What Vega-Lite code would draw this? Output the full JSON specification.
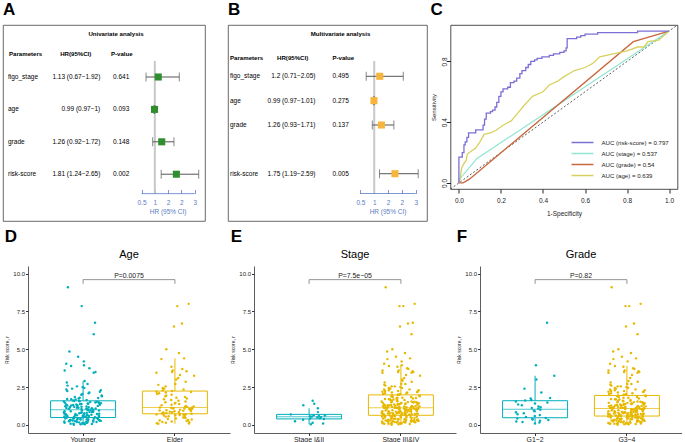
{
"$schema":"https://vega.github.io/schema/vega-lite/v6.json",
"background":"white",
"padding":{"left":2,"top":0,"right":0,"bottom":0},
"config":{"font":"Liberation Sans","view":{"stroke":null},"axis":{"grid":false,"titleFontWeight":"normal"}},
"resolve":{"scale":{"color":"independent"},"legend":{"color":"independent"}},
"datasets":{
"uni":[
{"param":"figo_stage","row":1,"hr":1.13,"lo":0.67,"hi":1.92,"ci":"1.13 (0.67−1.92)","p":"0.641"},
{"param":"age","row":2,"hr":0.99,"lo":0.97,"hi":1.0,"ci":"0.99 (0.97−1)","p":"0.093"},
{"param":"grade","row":3,"hr":1.26,"lo":0.92,"hi":1.72,"ci":"1.26 (0.92−1.72)","p":"0.148"},
{"param":"risk-score","row":4,"hr":1.81,"lo":1.24,"hi":2.65,"ci":"1.81 (1.24−2.65)","p":"0.002"}
],
"multi":[
{"param":"figo_stage","row":1,"hr":1.2,"lo":0.71,"hi":2.05,"ci":"1.2 (0.71−2.05)","p":"0.495"},
{"param":"age","row":2,"hr":0.99,"lo":0.97,"hi":1.01,"ci":"0.99 (0.97−1.01)","p":"0.275"},
{"param":"grade","row":3,"hr":1.26,"lo":0.93,"hi":1.71,"ci":"1.26 (0.93−1.71)","p":"0.137"},
{"param":"risk-score","row":5,"hr":1.75,"lo":1.19,"hi":2.59,"ci":"1.75 (1.19−2.59)","p":"0.005"}
],
"roc":[
{"m":"risk-score","k":0,"fpr":0,"tpr":0},{"m":"risk-score","k":1,"fpr":0,"tpr":0.17},{"m":"risk-score","k":2,"fpr":0.016,"tpr":0.2},{"m":"risk-score","k":3,"fpr":0.024,"tpr":0.25},{"m":"risk-score","k":4,"fpr":0.03,"tpr":0.27},{"m":"risk-score","k":5,"fpr":0.038,"tpr":0.3},{"m":"risk-score","k":6,"fpr":0.046,"tpr":0.33},{"m":"risk-score","k":7,"fpr":0.08,"tpr":0.35},{"m":"risk-score","k":8,"fpr":0.115,"tpr":0.38},{"m":"risk-score","k":9,"fpr":0.122,"tpr":0.42},{"m":"risk-score","k":10,"fpr":0.13,"tpr":0.46},{"m":"risk-score","k":11,"fpr":0.15,"tpr":0.47},{"m":"risk-score","k":12,"fpr":0.16,"tpr":0.48},{"m":"risk-score","k":13,"fpr":0.172,"tpr":0.5},{"m":"risk-score","k":14,"fpr":0.18,"tpr":0.53},{"m":"risk-score","k":15,"fpr":0.19,"tpr":0.57},{"m":"risk-score","k":16,"fpr":0.2,"tpr":0.6},{"m":"risk-score","k":17,"fpr":0.21,"tpr":0.62},{"m":"risk-score","k":18,"fpr":0.232,"tpr":0.63},{"m":"risk-score","k":19,"fpr":0.245,"tpr":0.66},{"m":"risk-score","k":20,"fpr":0.262,"tpr":0.67},{"m":"risk-score","k":21,"fpr":0.275,"tpr":0.69},{"m":"risk-score","k":22,"fpr":0.29,"tpr":0.72},{"m":"risk-score","k":23,"fpr":0.3,"tpr":0.74},{"m":"risk-score","k":24,"fpr":0.318,"tpr":0.76},{"m":"risk-score","k":25,"fpr":0.33,"tpr":0.78},{"m":"risk-score","k":26,"fpr":0.342,"tpr":0.8},{"m":"risk-score","k":27,"fpr":0.36,"tpr":0.81},{"m":"risk-score","k":28,"fpr":0.372,"tpr":0.82},{"m":"risk-score","k":29,"fpr":0.395,"tpr":0.83},{"m":"risk-score","k":30,"fpr":0.43,"tpr":0.84},{"m":"risk-score","k":31,"fpr":0.45,"tpr":0.85},{"m":"risk-score","k":32,"fpr":0.48,"tpr":0.86},{"m":"risk-score","k":33,"fpr":0.5,"tpr":0.87},{"m":"risk-score","k":34,"fpr":0.51,"tpr":0.89},{"m":"risk-score","k":35,"fpr":0.515,"tpr":0.95},{"m":"risk-score","k":36,"fpr":0.56,"tpr":0.96},{"m":"risk-score","k":37,"fpr":0.58,"tpr":0.97},{"m":"risk-score","k":38,"fpr":0.6,"tpr":0.98},{"m":"risk-score","k":39,"fpr":0.66,"tpr":0.99},{"m":"risk-score","k":40,"fpr":0.85,"tpr":1},{"m":"risk-score","k":41,"fpr":1,"tpr":1},
{"m":"stage","k":0,"fpr":0,"tpr":0},{"m":"stage","k":1,"fpr":0,"tpr":0.02},{"m":"stage","k":2,"fpr":0.085,"tpr":0.16},{"m":"stage","k":3,"fpr":1,"tpr":1},
{"m":"grade","k":0,"fpr":0,"tpr":0},{"m":"grade","k":1,"fpr":0.02,"tpr":0},{"m":"grade","k":2,"fpr":0.05,"tpr":0.025},{"m":"grade","k":3,"fpr":0.83,"tpr":0.93},{"m":"grade","k":4,"fpr":1,"tpr":1},
{"m":"age","k":0,"fpr":0,"tpr":0},{"m":"age","k":1,"fpr":0.005,"tpr":0.02},{"m":"age","k":2,"fpr":0.013,"tpr":0.1},{"m":"age","k":3,"fpr":0.025,"tpr":0.13},{"m":"age","k":4,"fpr":0.035,"tpr":0.15},{"m":"age","k":5,"fpr":0.04,"tpr":0.19},{"m":"age","k":6,"fpr":0.06,"tpr":0.21},{"m":"age","k":7,"fpr":0.08,"tpr":0.23},{"m":"age","k":8,"fpr":0.1,"tpr":0.27},{"m":"age","k":9,"fpr":0.12,"tpr":0.32},{"m":"age","k":10,"fpr":0.15,"tpr":0.33},{"m":"age","k":11,"fpr":0.175,"tpr":0.345},{"m":"age","k":12,"fpr":0.21,"tpr":0.38},{"m":"age","k":13,"fpr":0.25,"tpr":0.41},{"m":"age","k":14,"fpr":0.28,"tpr":0.46},{"m":"age","k":15,"fpr":0.31,"tpr":0.51},{"m":"age","k":16,"fpr":0.35,"tpr":0.57},{"m":"age","k":17,"fpr":0.4,"tpr":0.6},{"m":"age","k":18,"fpr":0.43,"tpr":0.645},{"m":"age","k":19,"fpr":0.47,"tpr":0.67},{"m":"age","k":20,"fpr":0.5,"tpr":0.7},{"m":"age","k":21,"fpr":0.55,"tpr":0.74},{"m":"age","k":22,"fpr":0.6,"tpr":0.76},{"m":"age","k":23,"fpr":0.64,"tpr":0.79},{"m":"age","k":24,"fpr":0.67,"tpr":0.83},{"m":"age","k":25,"fpr":0.75,"tpr":0.855},{"m":"age","k":26,"fpr":0.8,"tpr":0.87},{"m":"age","k":27,"fpr":0.85,"tpr":0.895},{"m":"age","k":28,"fpr":0.88,"tpr":0.895},{"m":"age","k":29,"fpr":0.9,"tpr":0.93},{"m":"age","k":30,"fpr":0.95,"tpr":0.94},{"m":"age","k":31,"fpr":1,"tpr":1}
],
"pts":[
{"r":0.02,"a":"Y","s":"H","g":"H"},{"r":0.04,"a":"Y","s":"H","g":"H"},{"r":0.05,"a":"Y","s":"L","g":"H"},{"r":0.06,"a":"Y","s":"H","g":"H"},{"r":0.08,"a":"Y","s":"H","g":"H"},{"r":0.09,"a":"Y","s":"H","g":"H"},{"r":0.1,"a":"Y","s":"H","g":"L"},{"r":0.11,"a":"Y","s":"H","g":"H"},{"r":0.12,"a":"Y","s":"H","g":"H"},{"r":0.14,"a":"Y","s":"H","g":"H"},
{"r":0.15,"a":"Y","s":"L","g":"H"},{"r":0.16,"a":"Y","s":"H","g":"L"},{"r":0.17,"a":"Y","s":"H","g":"H"},{"r":0.19,"a":"Y","s":"H","g":"H"},{"r":0.2,"a":"Y","s":"H","g":"H"},{"r":0.21,"a":"Y","s":"H","g":"H"},{"r":0.22,"a":"Y","s":"H","g":"H"},{"r":0.23,"a":"Y","s":"H","g":"L"},{"r":0.24,"a":"Y","s":"H","g":"H"},{"r":0.25,"a":"Y","s":"L","g":"H"},
{"r":0.26,"a":"Y","s":"H","g":"H"},{"r":0.27,"a":"Y","s":"H","g":"H"},{"r":0.28,"a":"Y","s":"H","g":"L"},{"r":0.29,"a":"Y","s":"H","g":"H"},{"r":0.3,"a":"Y","s":"H","g":"H"},{"r":0.31,"a":"Y","s":"H","g":"H"},{"r":0.32,"a":"Y","s":"H","g":"H"},{"r":0.33,"a":"Y","s":"H","g":"H"},{"r":0.34,"a":"Y","s":"H","g":"H"},{"r":0.35,"a":"Y","s":"L","g":"H"},
{"r":0.36,"a":"Y","s":"H","g":"L"},{"r":0.37,"a":"Y","s":"H","g":"H"},{"r":0.38,"a":"Y","s":"H","g":"H"},{"r":0.39,"a":"Y","s":"H","g":"L"},{"r":0.4,"a":"Y","s":"L","g":"H"},{"r":0.41,"a":"Y","s":"H","g":"H"},{"r":0.42,"a":"Y","s":"H","g":"L"},{"r":0.43,"a":"Y","s":"H","g":"H"},{"r":0.44,"a":"Y","s":"H","g":"H"},{"r":0.45,"a":"Y","s":"L","g":"H"},
{"r":0.47,"a":"Y","s":"H","g":"H"},{"r":0.49,"a":"Y","s":"H","g":"H"},{"r":0.5,"a":"Y","s":"H","g":"H"},{"r":0.51,"a":"Y","s":"H","g":"H"},{"r":0.52,"a":"Y","s":"L","g":"H"},{"r":0.53,"a":"Y","s":"H","g":"L"},{"r":0.54,"a":"Y","s":"H","g":"H"},{"r":0.55,"a":"Y","s":"L","g":"H"},{"r":0.56,"a":"Y","s":"H","g":"H"},{"r":0.57,"a":"Y","s":"H","g":"H"},
{"r":0.58,"a":"Y","s":"L","g":"H"},{"r":0.59,"a":"Y","s":"H","g":"H"},{"r":0.6,"a":"Y","s":"H","g":"L"},{"r":0.61,"a":"Y","s":"H","g":"H"},{"r":0.62,"a":"Y","s":"L","g":"H"},{"r":0.63,"a":"Y","s":"H","g":"H"},{"r":0.64,"a":"Y","s":"H","g":"H"},{"r":0.65,"a":"Y","s":"L","g":"H"},{"r":0.66,"a":"Y","s":"H","g":"H"},{"r":0.67,"a":"Y","s":"H","g":"H"},
{"r":0.68,"a":"Y","s":"H","g":"H"},{"r":0.7,"a":"Y","s":"H","g":"H"},{"r":0.71,"a":"Y","s":"H","g":"L"},{"r":0.72,"a":"Y","s":"H","g":"H"},{"r":0.73,"a":"Y","s":"H","g":"H"},{"r":0.75,"a":"Y","s":"H","g":"H"},{"r":0.76,"a":"Y","s":"H","g":"H"},{"r":0.77,"a":"Y","s":"H","g":"H"},{"r":0.78,"a":"Y","s":"H","g":"H"},{"r":0.8,"a":"Y","s":"H","g":"H"},
{"r":0.81,"a":"Y","s":"H","g":"H"},{"r":0.82,"a":"Y","s":"H","g":"H"},{"r":0.84,"a":"Y","s":"H","g":"L"},{"r":0.85,"a":"Y","s":"L","g":"H"},{"r":0.86,"a":"Y","s":"H","g":"H"},{"r":0.88,"a":"Y","s":"H","g":"H"},{"r":0.9,"a":"Y","s":"H","g":"H"},{"r":0.91,"a":"Y","s":"H","g":"H"},{"r":0.93,"a":"Y","s":"H","g":"H"},{"r":0.95,"a":"Y","s":"H","g":"H"},
{"r":0.96,"a":"Y","s":"H","g":"L"},{"r":0.98,"a":"Y","s":"H","g":"H"},{"r":1.0,"a":"Y","s":"H","g":"H"},{"r":1.01,"a":"Y","s":"H","g":"H"},{"r":1.02,"a":"Y","s":"H","g":"H"},{"r":1.04,"a":"Y","s":"H","g":"H"},{"r":1.05,"a":"Y","s":"H","g":"H"},{"r":1.06,"a":"Y","s":"H","g":"H"},{"r":1.08,"a":"Y","s":"H","g":"L"},{"r":1.09,"a":"Y","s":"H","g":"H"},
{"r":1.1,"a":"Y","s":"L","g":"H"},{"r":1.12,"a":"Y","s":"H","g":"H"},{"r":1.13,"a":"Y","s":"H","g":"H"},{"r":1.14,"a":"Y","s":"H","g":"H"},{"r":1.16,"a":"Y","s":"H","g":"H"},{"r":1.17,"a":"Y","s":"H","g":"L"},{"r":1.18,"a":"Y","s":"H","g":"H"},{"r":1.2,"a":"Y","s":"H","g":"H"},{"r":1.21,"a":"Y","s":"H","g":"H"},{"r":1.22,"a":"Y","s":"H","g":"L"},
{"r":1.24,"a":"Y","s":"H","g":"H"},{"r":1.25,"a":"Y","s":"H","g":"H"},{"r":1.26,"a":"Y","s":"H","g":"H"},{"r":1.28,"a":"Y","s":"H","g":"H"},{"r":1.29,"a":"Y","s":"H","g":"H"},{"r":1.3,"a":"Y","s":"L","g":"H"},{"r":1.32,"a":"Y","s":"H","g":"H"},{"r":1.33,"a":"Y","s":"H","g":"H"},{"r":1.35,"a":"Y","s":"H","g":"H"},{"r":1.36,"a":"Y","s":"H","g":"L"},
{"r":1.38,"a":"Y","s":"H","g":"H"},{"r":1.39,"a":"Y","s":"H","g":"H"},{"r":1.4,"a":"Y","s":"L","g":"H"},{"r":1.42,"a":"Y","s":"H","g":"H"},{"r":1.43,"a":"Y","s":"H","g":"H"},{"r":1.45,"a":"Y","s":"H","g":"H"},{"r":1.46,"a":"Y","s":"H","g":"H"},{"r":1.48,"a":"Y","s":"H","g":"L"},{"r":1.5,"a":"Y","s":"H","g":"H"},{"r":1.51,"a":"Y","s":"H","g":"H"},
{"r":1.53,"a":"Y","s":"H","g":"H"},{"r":1.55,"a":"Y","s":"H","g":"L"},{"r":1.56,"a":"Y","s":"H","g":"H"},{"r":1.58,"a":"Y","s":"H","g":"H"},{"r":1.6,"a":"Y","s":"H","g":"H"},{"r":1.62,"a":"Y","s":"H","g":"L"},{"r":1.65,"a":"Y","s":"H","g":"H"},{"r":1.68,"a":"Y","s":"H","g":"H"},{"r":1.7,"a":"Y","s":"H","g":"H"},{"r":1.72,"a":"Y","s":"H","g":"H"},
{"r":1.75,"a":"Y","s":"H","g":"L"},{"r":1.78,"a":"Y","s":"H","g":"L"},{"r":1.8,"a":"Y","s":"H","g":"H"},{"r":1.85,"a":"Y","s":"H","g":"H"},{"r":1.9,"a":"Y","s":"H","g":"H"},{"r":1.95,"a":"Y","s":"H","g":"H"},{"r":2.0,"a":"Y","s":"H","g":"H"},{"r":2.05,"a":"Y","s":"H","g":"H"},{"r":2.1,"a":"Y","s":"H","g":"H"},{"r":2.15,"a":"Y","s":"H","g":"L"},
{"r":2.2,"a":"Y","s":"H","g":"H"},{"r":2.25,"a":"Y","s":"H","g":"H"},{"r":2.3,"a":"Y","s":"H","g":"H"},{"r":2.35,"a":"Y","s":"H","g":"H"},{"r":2.4,"a":"Y","s":"H","g":"H"},{"r":2.45,"a":"Y","s":"H","g":"H"},{"r":2.5,"a":"Y","s":"H","g":"H"},{"r":2.55,"a":"Y","s":"H","g":"H"},{"r":2.6,"a":"Y","s":"H","g":"H"},{"r":2.7,"a":"Y","s":"H","g":"H"},
{"r":2.8,"a":"Y","s":"H","g":"H"},{"r":2.9,"a":"Y","s":"H","g":"H"},{"r":3.45,"a":"Y","s":"H","g":"H"},{"r":3.5,"a":"Y","s":"H","g":"H"},{"r":3.6,"a":"Y","s":"H","g":"H"},{"r":3.75,"a":"Y","s":"H","g":"H"},{"r":3.9,"a":"Y","s":"H","g":"H"},{"r":3.95,"a":"Y","s":"H","g":"L"},{"r":4.05,"a":"Y","s":"H","g":"H"},{"r":4.2,"a":"Y","s":"H","g":"H"},
{"r":4.5,"a":"Y","s":"H","g":"H"},{"r":4.85,"a":"Y","s":"H","g":"H"},{"r":6.0,"a":"Y","s":"H","g":"H"},{"r":6.75,"a":"Y","s":"H","g":"L"},{"r":7.85,"a":"Y","s":"H","g":"H"},{"r":9.1,"a":"Y","s":"H","g":"H"},
{"r":0.08,"a":"E","s":"H","g":"H"},{"r":0.1,"a":"E","s":"L","g":"H"},{"r":0.12,"a":"E","s":"H","g":"H"},{"r":0.15,"a":"E","s":"H","g":"H"},{"r":0.18,"a":"E","s":"H","g":"H"},{"r":0.2,"a":"E","s":"H","g":"L"},{"r":0.23,"a":"E","s":"H","g":"H"},{"r":0.26,"a":"E","s":"H","g":"H"},{"r":0.3,"a":"E","s":"H","g":"H"},{"r":0.33,"a":"E","s":"H","g":"L"},
{"r":0.36,"a":"E","s":"H","g":"H"},{"r":0.4,"a":"E","s":"H","g":"H"},{"r":0.43,"a":"E","s":"L","g":"H"},{"r":0.46,"a":"E","s":"H","g":"L"},{"r":0.5,"a":"E","s":"L","g":"H"},{"r":0.52,"a":"E","s":"H","g":"H"},{"r":0.55,"a":"E","s":"H","g":"H"},{"r":0.57,"a":"E","s":"H","g":"H"},{"r":0.6,"a":"E","s":"L","g":"H"},{"r":0.62,"a":"E","s":"H","g":"H"},
{"r":0.64,"a":"E","s":"H","g":"H"},{"r":0.66,"a":"E","s":"H","g":"L"},{"r":0.68,"a":"E","s":"H","g":"H"},{"r":0.7,"a":"E","s":"L","g":"H"},{"r":0.71,"a":"E","s":"H","g":"H"},{"r":0.72,"a":"E","s":"H","g":"H"},{"r":0.74,"a":"E","s":"H","g":"H"},{"r":0.76,"a":"E","s":"H","g":"H"},{"r":0.78,"a":"E","s":"H","g":"L"},{"r":0.8,"a":"E","s":"H","g":"H"},
{"r":0.82,"a":"E","s":"H","g":"H"},{"r":0.84,"a":"E","s":"H","g":"H"},{"r":0.86,"a":"E","s":"H","g":"H"},{"r":0.88,"a":"E","s":"H","g":"H"},{"r":0.9,"a":"E","s":"H","g":"L"},{"r":0.92,"a":"E","s":"H","g":"H"},{"r":0.94,"a":"E","s":"H","g":"H"},{"r":0.96,"a":"E","s":"H","g":"H"},{"r":0.98,"a":"E","s":"H","g":"H"},{"r":1.0,"a":"E","s":"H","g":"H"},
{"r":1.01,"a":"E","s":"H","g":"L"},{"r":1.03,"a":"E","s":"H","g":"H"},{"r":1.04,"a":"E","s":"H","g":"H"},{"r":1.06,"a":"E","s":"H","g":"H"},{"r":1.07,"a":"E","s":"H","g":"H"},{"r":1.08,"a":"E","s":"H","g":"H"},{"r":1.09,"a":"E","s":"H","g":"H"},{"r":1.1,"a":"E","s":"H","g":"H"},{"r":1.11,"a":"E","s":"H","g":"H"},{"r":1.12,"a":"E","s":"H","g":"L"},
{"r":1.13,"a":"E","s":"H","g":"H"},{"r":1.14,"a":"E","s":"H","g":"H"},{"r":1.16,"a":"E","s":"H","g":"H"},{"r":1.18,"a":"E","s":"H","g":"H"},{"r":1.2,"a":"E","s":"H","g":"H"},{"r":1.23,"a":"E","s":"H","g":"H"},{"r":1.26,"a":"E","s":"H","g":"H"},{"r":1.3,"a":"E","s":"H","g":"L"},{"r":1.34,"a":"E","s":"H","g":"H"},{"r":1.38,"a":"E","s":"H","g":"H"},
{"r":1.42,"a":"E","s":"H","g":"L"},{"r":1.46,"a":"E","s":"H","g":"H"},{"r":1.5,"a":"E","s":"H","g":"H"},{"r":1.55,"a":"E","s":"H","g":"H"},{"r":1.6,"a":"E","s":"L","g":"H"},{"r":1.65,"a":"E","s":"H","g":"L"},{"r":1.7,"a":"E","s":"H","g":"H"},{"r":1.75,"a":"E","s":"H","g":"H"},{"r":1.8,"a":"E","s":"H","g":"H"},{"r":1.85,"a":"E","s":"H","g":"H"},
{"r":1.9,"a":"E","s":"H","g":"H"},{"r":1.95,"a":"E","s":"H","g":"H"},{"r":2.0,"a":"E","s":"H","g":"H"},{"r":2.05,"a":"E","s":"H","g":"H"},{"r":2.1,"a":"E","s":"H","g":"H"},{"r":2.15,"a":"E","s":"H","g":"H"},{"r":2.18,"a":"E","s":"H","g":"H"},{"r":2.2,"a":"E","s":"H","g":"H"},{"r":2.24,"a":"E","s":"H","g":"H"},{"r":2.3,"a":"E","s":"H","g":"H"},
{"r":2.35,"a":"E","s":"H","g":"H"},{"r":2.4,"a":"E","s":"H","g":"L"},{"r":2.45,"a":"E","s":"H","g":"H"},{"r":2.55,"a":"E","s":"H","g":"H"},{"r":2.65,"a":"E","s":"H","g":"H"},{"r":2.7,"a":"E","s":"H","g":"H"},{"r":2.85,"a":"E","s":"H","g":"H"},{"r":3.0,"a":"E","s":"H","g":"L"},{"r":3.1,"a":"E","s":"H","g":"H"},{"r":3.25,"a":"E","s":"H","g":"L"},
{"r":3.3,"a":"E","s":"H","g":"H"},{"r":3.45,"a":"E","s":"H","g":"H"},{"r":3.5,"a":"E","s":"H","g":"H"},{"r":3.55,"a":"E","s":"H","g":"H"},{"r":3.6,"a":"E","s":"H","g":"H"},{"r":3.7,"a":"E","s":"H","g":"H"},{"r":3.85,"a":"E","s":"H","g":"H"},{"r":4.35,"a":"E","s":"H","g":"H"},{"r":4.4,"a":"E","s":"H","g":"H"},{"r":4.75,"a":"E","s":"H","g":"H"},
{"r":5.0,"a":"E","s":"H","g":"H"},{"r":6.5,"a":"E","s":"H","g":"H"},{"r":6.7,"a":"E","s":"H","g":"H"},{"r":7.85,"a":"E","s":"H","g":"H"},{"r":8.0,"a":"E","s":"H","g":"H"}
]
},
"columns":1,
"align":"none",
"spacing":6,
"concat":[
{"spacing":1.5,"resolve":{"scale":{"color":"independent"},"legend":{"color":"independent"}},"hconcat":[
 {"spacing":21,"hconcat":[
  {"title":{"text":"A","anchor":"start","fontSize":17,"fontWeight":"bold","offset":6},
   "width":202,"height":196,
   "view":{"stroke":"#444","strokeWidth":0.8},
   "data":{"name":"uni"},
   "resolve":{"scale":{"x":"independent"}},
   "layer":[
    {"layer":[
     {"data":{"values":[{}]},"mark":{"type":"text","text":"Univariate analysis","fontWeight":"bold","fontSize":6.1,"align":"center","baseline":"middle","dx":12},
      "encoding":{"x":{"datum":"HR(95%CI)","type":"nominal","bandPosition":1,"scale":{"type":"band","domain":["Parameters","HR(95%CI)","P-value","plot"],"paddingInner":0,"paddingOuter":0},"axis":null},
                  "y":{"datum":-0.336,"type":"quantitative","scale":{"domain":[-0.605,5.444],"reverse":true,"nice":false,"zero":false},"axis":null}}},
     {"data":{"values":[{}]},"mark":{"type":"text","text":"Parameters","fontWeight":"bold","fontSize":6.1,"align":"left","baseline":"middle","dx":6},
      "encoding":{"x":{"datum":"Parameters","type":"nominal","bandPosition":0,"axis":null},"y":{"datum":0.3,"type":"quantitative","axis":null}}},
     {"data":{"values":[{}]},"mark":{"type":"text","text":"HR(95%CI)","fontWeight":"bold","fontSize":6.1,"align":"center","baseline":"middle","dx":-3},
      "encoding":{"x":{"datum":"HR(95%CI)","type":"nominal","bandPosition":0.5,"axis":null},"y":{"datum":0.3,"type":"quantitative","axis":null}}},
     {"data":{"values":[{}]},"mark":{"type":"text","text":"P-value","fontWeight":"bold","fontSize":6.1,"align":"left","baseline":"middle","dx":7},
      "encoding":{"x":{"datum":"P-value","type":"nominal","bandPosition":0,"axis":null},"y":{"datum":0.3,"type":"quantitative","axis":null}}},
     {"mark":{"type":"text","fontSize":6.5,"align":"left","baseline":"middle","dx":5},
      "encoding":{"x":{"datum":"Parameters","type":"nominal","bandPosition":0,"axis":null},"y":{"field":"row","type":"quantitative","axis":null},"text":{"field":"param"}}},
     {"mark":{"type":"text","fontSize":6.5,"align":"right","baseline":"middle","dx":-3.7},
      "encoding":{"x":{"datum":"HR(95%CI)","type":"nominal","bandPosition":1,"axis":null},"y":{"field":"row","type":"quantitative","axis":null},"text":{"field":"ci"}}},
     {"mark":{"type":"text","fontSize":6.5,"align":"left","baseline":"middle","dx":9},
      "encoding":{"x":{"datum":"P-value","type":"nominal","bandPosition":0,"axis":null},"y":{"field":"row","type":"quantitative","axis":null},"text":{"field":"p"}}}
    ]},
    {"layer":[
     {"data":{"values":[{}]},"mark":{"type":"rule","color":"#C8C8C8","strokeWidth":2},
      "encoding":{"x":{"datum":1,"type":"quantitative","scale":{"domain":[-4.707,2.887],"nice":false,"zero":false},
        "axis":{"values":[0.5,1,1.5,2,2.5],"format":"~g","orient":"bottom","offset":-27.5,"domain":false,"tickSize":-4,"tickColor":"#5D7DC4","tickWidth":0.8,"labelColor":"#5D7DC4","labelFontSize":6.5,"labelPadding":10,"labelOverlap":false,"title":null}},
       "y":{"datum":0.506,"type":"quantitative","axis":null},"y2":{"datum":4.6}}},
     {"data":{"values":[{}]},"mark":{"type":"rule","color":"#5D7DC4","strokeWidth":0.8},
      "encoding":{"x":{"datum":0.5,"type":"quantitative"},"x2":{"datum":2.5},"y":{"datum":4.6,"type":"quantitative","axis":null}}},
     {"mark":{"type":"rule","color":"#555","strokeWidth":1},
      "encoding":{"x":{"field":"lo","type":"quantitative"},"x2":{"field":"hi"},"y":{"field":"row","type":"quantitative","axis":null}}},
     {"mark":{"type":"tick","orient":"vertical","color":"#555","size":9,"thickness":1},
      "encoding":{"x":{"field":"lo","type":"quantitative"},"y":{"field":"row","type":"quantitative","axis":null}}},
     {"mark":{"type":"tick","orient":"vertical","color":"#555","size":9,"thickness":1},
      "encoding":{"x":{"field":"hi","type":"quantitative"},"y":{"field":"row","type":"quantitative","axis":null}}},
     {"mark":{"type":"square","color":"#2F8F2F","size":50,"opacity":1},
      "encoding":{"x":{"field":"hr","type":"quantitative"},"y":{"field":"row","type":"quantitative","axis":null}}},
     {"data":{"values":[{}]},"mark":{"type":"text","text":"HR (95% CI)","color":"#5D7DC4","fontSize":6.5,"align":"center","baseline":"middle"},
      "encoding":{"x":{"datum":1.5,"type":"quantitative"},"y":{"datum":5.157,"type":"quantitative","axis":null}}}
    ]}
   ]},
  {"title":{"text":"B","anchor":"start","fontSize":17,"fontWeight":"bold","offset":6},
   "width":199,"height":196,
   "view":{"stroke":"#444","strokeWidth":0.8},
   "data":{"name":"multi"},
   "resolve":{"scale":{"x":"independent"}},
   "layer":[
    {"layer":[
     {"data":{"values":[{}]},"mark":{"type":"text","text":"Multivariate analysis","fontWeight":"bold","fontSize":6.1,"align":"center","baseline":"middle","dx":13},
      "encoding":{"x":{"datum":"HR(95%CI)","type":"nominal","bandPosition":1,"scale":{"type":"band","domain":["Parameters","HR(95%CI)","P-value","plot"],"paddingInner":0,"paddingOuter":0},"axis":null},
                  "y":{"datum":-0.725,"type":"quantitative","scale":{"domain":[-1.107,6.942],"reverse":true,"nice":false,"zero":false},"axis":null}}},
     {"data":{"values":[{}]},"mark":{"type":"text","text":"Parameters","fontWeight":"bold","fontSize":6.1,"align":"left","baseline":"middle","dx":2},
      "encoding":{"x":{"datum":"Parameters","type":"nominal","bandPosition":0,"axis":null},"y":{"datum":0.236,"type":"quantitative","axis":null}}},
     {"data":{"values":[{}]},"mark":{"type":"text","text":"HR(95%CI)","fontWeight":"bold","fontSize":6.1,"align":"center","baseline":"middle","dx":-10},
      "encoding":{"x":{"datum":"HR(95%CI)","type":"nominal","bandPosition":0.5,"axis":null},"y":{"datum":0.236,"type":"quantitative","axis":null}}},
     {"data":{"values":[{}]},"mark":{"type":"text","text":"P-value","fontWeight":"bold","fontSize":6.1,"align":"left","baseline":"middle","dx":5},
      "encoding":{"x":{"datum":"P-value","type":"nominal","bandPosition":0,"axis":null},"y":{"datum":0.236,"type":"quantitative","axis":null}}},
     {"mark":{"type":"text","fontSize":6.5,"align":"left","baseline":"middle","dx":2},
      "encoding":{"x":{"datum":"Parameters","type":"nominal","bandPosition":0,"axis":null},"y":{"field":"row","type":"quantitative","axis":null},"text":{"field":"param"}}},
     {"mark":{"type":"text","fontSize":6.5,"align":"right","baseline":"middle","dx":-12},
      "encoding":{"x":{"datum":"HR(95%CI)","type":"nominal","bandPosition":1,"axis":null},"y":{"field":"row","type":"quantitative","axis":null},"text":{"field":"ci"}}},
     {"mark":{"type":"text","fontSize":6.5,"align":"left","baseline":"middle","dx":5},
      "encoding":{"x":{"datum":"P-value","type":"nominal","bandPosition":0,"axis":null},"y":{"field":"row","type":"quantitative","axis":null},"text":{"field":"p"}}}
    ]},
    {"layer":[
     {"data":{"values":[{}]},"mark":{"type":"rule","color":"#C8C8C8","strokeWidth":2},
      "encoding":{"x":{"datum":1,"type":"quantitative","scale":{"domain":[-4.287,2.908],"nice":false,"zero":false},
        "axis":{"values":[0.5,1,1.5,2,2.5],"format":"~g","orient":"bottom","offset":-27.5,"domain":false,"tickSize":-4,"tickColor":"#5D7DC4","tickWidth":0.8,"labelColor":"#5D7DC4","labelFontSize":6.5,"labelPadding":10,"labelOverlap":false,"title":null}},
       "y":{"datum":0.372,"type":"quantitative","axis":null},"y2":{"datum":5.813}}},
     {"data":{"values":[{}]},"mark":{"type":"rule","color":"#5D7DC4","strokeWidth":0.8},
      "encoding":{"x":{"datum":0.5,"type":"quantitative"},"x2":{"datum":2.5},"y":{"datum":5.813,"type":"quantitative","axis":null}}},
     {"mark":{"type":"rule","color":"#555","strokeWidth":1},
      "encoding":{"x":{"field":"lo","type":"quantitative"},"x2":{"field":"hi"},"y":{"field":"row","type":"quantitative","axis":null}}},
     {"mark":{"type":"tick","orient":"vertical","color":"#555","size":9,"thickness":1},
      "encoding":{"x":{"field":"lo","type":"quantitative"},"y":{"field":"row","type":"quantitative","axis":null}}},
     {"mark":{"type":"tick","orient":"vertical","color":"#555","size":9,"thickness":1},
      "encoding":{"x":{"field":"hi","type":"quantitative"},"y":{"field":"row","type":"quantitative","axis":null}}},
     {"mark":{"type":"square","color":"#F7B53D","size":50,"opacity":1},
      "encoding":{"x":{"field":"hr","type":"quantitative"},"y":{"field":"row","type":"quantitative","axis":null}}},
     {"data":{"values":[{}]},"mark":{"type":"text","text":"HR (95% CI)","color":"#5D7DC4","fontSize":6.5,"align":"center","baseline":"middle"},
      "encoding":{"x":{"datum":1.5,"type":"quantitative"},"y":{"datum":6.56,"type":"quantitative","axis":null}}}
    ]}
   ]}
 ]},
 {"title":{"text":"C","anchor":"start","fontSize":17,"fontWeight":"bold","offset":6},
  "width":227,"height":164,
  "view":{"stroke":"#222","strokeWidth":0.8},
  "layer":[
   {"data":{"values":[{}]},"mark":{"type":"rule","color":"#333","strokeWidth":0.8,"strokeDash":[2,2]},
    "encoding":{
     "x":{"datum":-0.04,"type":"quantitative","scale":{"domain":[-0.04,1.04],"nice":false,"zero":false},
      "axis":{"values":[0,0.2,0.4,0.6,0.8,1],"format":".1f","title":"1-Specificity","domain":false,"tickSize":4,"tickColor":"#222","labelFontSize":6.5,"labelColor":"#222","labelPadding":4,"titleFontSize":6.5,"titlePadding":7,"titleColor":"#222"}},
     "x2":{"datum":1.04},
     "y":{"datum":-0.04,"type":"quantitative","scale":{"domain":[-0.04,1.04],"nice":false,"zero":false},
      "axis":{"values":[0,0.2,0.4,0.6,0.8,1],"format":".1f","title":"Sensitivity","domain":false,"tickSize":4,"tickColor":"#222","labelFontSize":6.5,"labelColor":"#222","labelAngle":-90,"labelAlign":"center","labelBaseline":"bottom","labelPadding":-1,"titleFontSize":6,"titlePadding":5,"titleColor":"#222"}},
     "y2":{"datum":1.04}}},
   {"data":{"name":"roc"},"transform":[{"filter":"datum.m != 'risk-score'"}],
    "mark":{"type":"line","strokeWidth":1.3},
    "encoding":{"x":{"field":"fpr","type":"quantitative"},"y":{"field":"tpr","type":"quantitative"},"order":{"field":"k","type":"quantitative"},
     "color":{"field":"m","type":"nominal","scale":{"domain":["risk-score","stage","grade","age"],"range":["#7B6FD6","#93E6D2","#C9673D","#D8D160"]},
      "legend":{"title":null,"orient":"bottom-right","offset":8,"padding":0,"symbolType":"stroke","symbolSize":480,"symbolStrokeWidth":1.5,"clipHeight":11,"labelFontSize":6.1,"labelColor":"#222","labelOffset":7,"rowPadding":0,
       "labelExpr":"datum.label == 'risk-score' ? 'AUC (risk-score) = 0.797' : datum.label == 'stage' ? 'AUC (stage) = 0.537' : datum.label == 'grade' ? 'AUC (grade) = 0.54' : 'AUC (age) = 0.639'"}}}},
   {"data":{"name":"roc"},"transform":[{"filter":"datum.m == 'risk-score'"}],
    "mark":{"type":"line","strokeWidth":1.3,"interpolate":"step-after"},
    "encoding":{"x":{"field":"fpr","type":"quantitative"},"y":{"field":"tpr","type":"quantitative"},"order":{"field":"k","type":"quantitative"},
     "color":{"field":"m","type":"nominal"}}}
  ]}
]},
{"spacing":0,"hconcat":[
 {"width":0.01,"height":10,"data":{"values":[]},"mark":{"type":"point","opacity":0},"encoding":{}},
 {"title":{"text":"D","anchor":"start","fontSize":17,"fontWeight":"bold","offset":3},
  "vconcat":[{
   "title":{"text":"Age","fontSize":11,"fontWeight":"normal","anchor":"middle","offset":6},
   "width":202,"height":167,
   "data":{"name":"pts"},
   "layer":[
    {"transform":[{"filter":"datum.a == 'Y'"}],
     "mark":{"type":"boxplot","extent":1.5,"size":65,"outliers":false,"box":{"fill":"white","stroke":"#00AFBB","strokeWidth":1},"median":{"color":"#00AFBB","strokeWidth":1.3},"rule":{"color":"#00AFBB","strokeWidth":1}},
     "encoding":{
      "x":{"field":"a","type":"nominal","scale":{"domain":["Y","E"],"paddingInner":0,"paddingOuter":0.1},
       "axis":{"title":null,"labelExpr":"datum.value == 'Y' ? 'Younger' : 'Elder'","labelAngle":0,"labelFontSize":6.9,"labelColor":"#222","tickSize":2.5,"tickColor":"#333","domainColor":"#333","domainWidth":0.8,"labelPadding":1}},
      "y":{"field":"r","type":"quantitative","scale":{"domain":[-0.53,10.5],"nice":false,"zero":false},
       "axis":{"title":"Risk score","values":[0,2.5,5,7.5,10],"format":".1f","titleFontSize":5,"labelFontSize":6,"tickSize":2.5,"labelPadding":1,"titlePadding":3,"domainColor":"#333","tickColor":"#333","labelColor":"#222","titleColor":"#222","domainWidth":0.8}}}},
    {"transform":[{"filter":"datum.a == 'E'"}],
     "mark":{"type":"boxplot","extent":1.5,"size":65,"outliers":false,"box":{"fill":"white","stroke":"#E7B800","strokeWidth":1},"median":{"color":"#E7B800","strokeWidth":1.3},"rule":{"color":"#E7B800","strokeWidth":1}},
     "encoding":{"x":{"field":"a","type":"nominal"},"y":{"field":"r","type":"quantitative"}}},
    {"transform":[{"window":[{"op":"row_number","as":"i"}]},{"calculate":"((abs(sin(datum.i*12.9898+78.233))*43758.5453)%1-0.5)*0.42","as":"j"}],
     "mark":{"type":"circle","size":6,"opacity":1},
     "encoding":{"x":{"field":"a","type":"nominal"},"y":{"field":"r","type":"quantitative"},
      "xOffset":{"field":"j","type":"quantitative","scale":{"domain":[-0.5,0.5]}},
      "color":{"condition":{"test":"datum.a == 'Y'","value":"#00AFBB"},"value":"#E7B800"}}},
    {"data":{"values":[{}]},"mark":{"type":"rule","color":"#666","strokeWidth":0.7},
     "encoding":{"x":{"datum":"Y","type":"nominal"},"x2":{"datum":"E"},"y":{"datum":9.6,"type":"quantitative"}}},
    {"data":{"values":[{}]},"mark":{"type":"rule","color":"#666","strokeWidth":0.7},
     "encoding":{"x":{"datum":"Y","type":"nominal"},"y":{"datum":9.32,"type":"quantitative"},"y2":{"datum":9.6}}},
    {"data":{"values":[{}]},"mark":{"type":"rule","color":"#666","strokeWidth":0.7},
     "encoding":{"x":{"datum":"E","type":"nominal"},"y":{"datum":9.32,"type":"quantitative"},"y2":{"datum":9.6}}},
    {"data":{"values":[{}]},"mark":{"type":"text","text":"P=0.0075","fontSize":6.9,"baseline":"bottom","dy":-1,"color":"#222"},
     "encoding":{"x":{"datum":"Y","type":"nominal","bandPosition":1},"y":{"datum":9.6,"type":"quantitative"}}}
   ]}]},
 {"title":{"text":"E","anchor":"start","fontSize":17,"fontWeight":"bold","offset":3},
  "vconcat":[{
   "title":{"text":"Stage","fontSize":11,"fontWeight":"normal","anchor":"middle","offset":6},
   "width":202,"height":167,
   "data":{"name":"pts"},
   "layer":[
    {"transform":[{"filter":"datum.s == 'L'"}],
     "mark":{"type":"boxplot","extent":1.5,"size":65,"outliers":false,"box":{"fill":"white","stroke":"#00AFBB","strokeWidth":1},"median":{"color":"#00AFBB","strokeWidth":1.3},"rule":{"color":"#00AFBB","strokeWidth":1}},
     "encoding":{
      "x":{"field":"s","type":"nominal","scale":{"domain":["L","H"],"paddingInner":0,"paddingOuter":0.1},
       "axis":{"title":null,"labelExpr":"datum.value == 'L' ? 'Stage I&II' : 'Stage III&IV'","labelAngle":0,"labelFontSize":6.9,"labelColor":"#222","tickSize":2.5,"tickColor":"#333","domainColor":"#333","domainWidth":0.8,"labelPadding":1}},
      "y":{"field":"r","type":"quantitative","scale":{"domain":[-0.53,10.5],"nice":false,"zero":false},
       "axis":{"title":"Risk score","values":[0,2.5,5,7.5,10],"format":".1f","titleFontSize":5,"labelFontSize":6,"tickSize":2.5,"labelPadding":1,"titlePadding":3,"domainColor":"#333","tickColor":"#333","labelColor":"#222","titleColor":"#222","domainWidth":0.8}}}},
    {"transform":[{"filter":"datum.s == 'H'"}],
     "mark":{"type":"boxplot","extent":1.5,"size":65,"outliers":false,"box":{"fill":"white","stroke":"#E7B800","strokeWidth":1},"median":{"color":"#E7B800","strokeWidth":1.3},"rule":{"color":"#E7B800","strokeWidth":1}},
     "encoding":{"x":{"field":"s","type":"nominal"},"y":{"field":"r","type":"quantitative"}}},
    {"transform":[{"window":[{"op":"row_number","as":"i"}]},{"calculate":"((abs(sin(datum.i*12.9898+78.233))*43758.5453)%1-0.5)*0.42","as":"j"}],
     "mark":{"type":"circle","size":6,"opacity":1},
     "encoding":{"x":{"field":"s","type":"nominal"},"y":{"field":"r","type":"quantitative"},
      "xOffset":{"field":"j","type":"quantitative","scale":{"domain":[-0.5,0.5]}},
      "color":{"condition":{"test":"datum.s == 'L'","value":"#00AFBB"},"value":"#E7B800"}}},
    {"data":{"values":[{}]},"mark":{"type":"rule","color":"#666","strokeWidth":0.7},
     "encoding":{"x":{"datum":"L","type":"nominal"},"x2":{"datum":"H"},"y":{"datum":9.6,"type":"quantitative"}}},
    {"data":{"values":[{}]},"mark":{"type":"rule","color":"#666","strokeWidth":0.7},
     "encoding":{"x":{"datum":"L","type":"nominal"},"y":{"datum":9.32,"type":"quantitative"},"y2":{"datum":9.6}}},
    {"data":{"values":[{}]},"mark":{"type":"rule","color":"#666","strokeWidth":0.7},
     "encoding":{"x":{"datum":"H","type":"nominal"},"y":{"datum":9.32,"type":"quantitative"},"y2":{"datum":9.6}}},
    {"data":{"values":[{}]},"mark":{"type":"text","text":"P=7.5e−05","fontSize":6.9,"baseline":"bottom","dy":-1,"color":"#222"},
     "encoding":{"x":{"datum":"L","type":"nominal","bandPosition":1},"y":{"datum":9.6,"type":"quantitative"}}}
   ]}]},
 {"title":{"text":"F","anchor":"start","fontSize":17,"fontWeight":"bold","offset":3},
  "vconcat":[{
   "title":{"text":"Grade","fontSize":11,"fontWeight":"normal","anchor":"middle","offset":6},
   "width":202,"height":167,
   "data":{"name":"pts"},
   "layer":[
    {"transform":[{"filter":"datum.g == 'L'"}],
     "mark":{"type":"boxplot","extent":1.5,"size":65,"outliers":false,"box":{"fill":"white","stroke":"#00AFBB","strokeWidth":1},"median":{"color":"#00AFBB","strokeWidth":1.3},"rule":{"color":"#00AFBB","strokeWidth":1}},
     "encoding":{
      "x":{"field":"g","type":"nominal","scale":{"domain":["L","H"],"paddingInner":0,"paddingOuter":0.1},
       "axis":{"title":null,"labelExpr":"datum.value == 'L' ? 'G1~2' : 'G3~4'","labelAngle":0,"labelFontSize":6.9,"labelColor":"#222","tickSize":2.5,"tickColor":"#333","domainColor":"#333","domainWidth":0.8,"labelPadding":1}},
      "y":{"field":"r","type":"quantitative","scale":{"domain":[-0.53,10.5],"nice":false,"zero":false},
       "axis":{"title":"Risk score","values":[0,2.5,5,7.5,10],"format":".1f","titleFontSize":5,"labelFontSize":6,"tickSize":2.5,"labelPadding":1,"titlePadding":3,"domainColor":"#333","tickColor":"#333","labelColor":"#222","titleColor":"#222","domainWidth":0.8}}}},
    {"transform":[{"filter":"datum.g == 'H'"}],
     "mark":{"type":"boxplot","extent":1.5,"size":65,"outliers":false,"box":{"fill":"white","stroke":"#E7B800","strokeWidth":1},"median":{"color":"#E7B800","strokeWidth":1.3},"rule":{"color":"#E7B800","strokeWidth":1}},
     "encoding":{"x":{"field":"g","type":"nominal"},"y":{"field":"r","type":"quantitative"}}},
    {"transform":[{"window":[{"op":"row_number","as":"i"}]},{"calculate":"((abs(sin(datum.i*12.9898+78.233))*43758.5453)%1-0.5)*0.42","as":"j"}],
     "mark":{"type":"circle","size":6,"opacity":1},
     "encoding":{"x":{"field":"g","type":"nominal"},"y":{"field":"r","type":"quantitative"},
      "xOffset":{"field":"j","type":"quantitative","scale":{"domain":[-0.5,0.5]}},
      "color":{"condition":{"test":"datum.g == 'L'","value":"#00AFBB"},"value":"#E7B800"}}},
    {"data":{"values":[{}]},"mark":{"type":"rule","color":"#666","strokeWidth":0.7},
     "encoding":{"x":{"datum":"L","type":"nominal"},"x2":{"datum":"H"},"y":{"datum":9.6,"type":"quantitative"}}},
    {"data":{"values":[{}]},"mark":{"type":"rule","color":"#666","strokeWidth":0.7},
     "encoding":{"x":{"datum":"L","type":"nominal"},"y":{"datum":9.32,"type":"quantitative"},"y2":{"datum":9.6}}},
    {"data":{"values":[{}]},"mark":{"type":"rule","color":"#666","strokeWidth":0.7},
     "encoding":{"x":{"datum":"H","type":"nominal"},"y":{"datum":9.32,"type":"quantitative"},"y2":{"datum":9.6}}},
    {"data":{"values":[{}]},"mark":{"type":"text","text":"P=0.82","fontSize":6.9,"baseline":"bottom","dy":-1,"color":"#222"},
     "encoding":{"x":{"datum":"L","type":"nominal","bandPosition":1},"y":{"datum":9.6,"type":"quantitative"}}}
   ]}]}
]}
]
}
